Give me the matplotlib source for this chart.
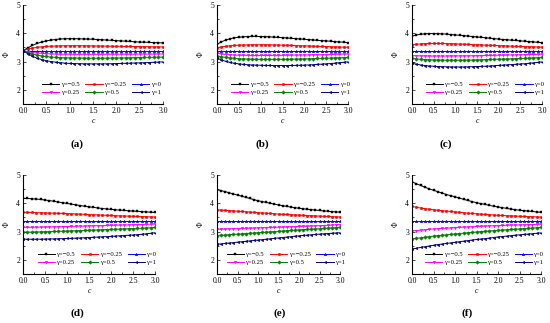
import matplotlib
matplotlib.use("Agg")
import matplotlib.pyplot as plt
from matplotlib.ticker import MultipleLocator, FormatStrFormatter

c = [0.0, 0.1, 0.2, 0.3, 0.4, 0.5, 0.6, 0.7, 0.8, 0.9, 1.0,
     1.1, 1.2, 1.3, 1.4, 1.5, 1.6, 1.7, 1.8, 1.9, 2.0,
     2.1, 2.2, 2.3, 2.4, 2.5, 2.6, 2.7, 2.8, 2.9, 3.0]

gamma_labels = ["γ=−0.5", "γ=−0.25", "γ=0", "γ=0.25", "γ=0.5", "γ=1"]
panel_labels = ["(a)", "(b)", "(c)", "(d)", "(e)", "(f)"]

flat_g0 = [3.38, 3.38, 3.38, 3.38, 3.38, 3.38, 3.38, 3.38, 3.38, 3.38, 3.38,
           3.38, 3.38, 3.38, 3.38, 3.38, 3.38, 3.38, 3.38, 3.38, 3.38,
           3.38, 3.38, 3.38, 3.38, 3.38, 3.38, 3.38, 3.38, 3.38, 3.38]

# Panel (a)
a_m05 = [3.39, 3.48, 3.57, 3.64, 3.69, 3.73, 3.76, 3.78, 3.80, 3.805, 3.81, 3.81, 3.805, 3.80, 3.795, 3.79,
         3.78, 3.77, 3.76, 3.75, 3.74, 3.73, 3.72, 3.71, 3.70, 3.69, 3.685, 3.68, 3.67, 3.665, 3.66]
a_m025 = [3.39, 3.44, 3.48, 3.50, 3.52, 3.535, 3.545, 3.55, 3.555, 3.56, 3.56, 3.56, 3.56, 3.56, 3.555, 3.555,
          3.55, 3.55, 3.545, 3.545, 3.54, 3.54, 3.535, 3.535, 3.53, 3.53, 3.525, 3.525, 3.52, 3.52, 3.52]
a_p025 = [3.39, 3.35, 3.32, 3.30, 3.29, 3.28, 3.27, 3.265, 3.26, 3.26, 3.26, 3.255, 3.255, 3.255, 3.255, 3.255,
          3.255, 3.255, 3.26, 3.26, 3.26, 3.26, 3.26, 3.26, 3.26, 3.265, 3.265, 3.265, 3.265, 3.265, 3.27]
a_p05 = [3.39, 3.32, 3.27, 3.23, 3.20, 3.18, 3.16, 3.15, 3.14, 3.135, 3.13, 3.128, 3.125, 3.123, 3.12, 3.12,
         3.12, 3.12, 3.122, 3.125, 3.128, 3.13, 3.133, 3.136, 3.14, 3.143, 3.146, 3.15, 3.153, 3.156, 3.16]
a_p1 = [3.39, 3.28, 3.19, 3.12, 3.07, 3.03, 3.00, 2.98, 2.96, 2.945, 2.935, 2.93, 2.925, 2.922, 2.92, 2.92,
        2.92, 2.92, 2.922, 2.925, 2.93, 2.935, 2.94, 2.945, 2.95, 2.955, 2.96, 2.967, 2.974, 2.982, 2.99]

# Panel (b)
b_m05 = [3.61, 3.70, 3.76, 3.81, 3.84, 3.86, 3.875, 3.885, 3.89, 3.89, 3.885, 3.88, 3.875, 3.865, 3.855, 3.845,
         3.835, 3.82, 3.81, 3.80, 3.79, 3.775, 3.765, 3.75, 3.74, 3.73, 3.72, 3.705, 3.695, 3.685, 3.67]
b_m025 = [3.49, 3.52, 3.54, 3.56, 3.57, 3.58, 3.585, 3.59, 3.595, 3.595, 3.595, 3.595, 3.59, 3.59, 3.585, 3.58,
          3.575, 3.57, 3.565, 3.56, 3.555, 3.55, 3.545, 3.54, 3.535, 3.53, 3.525, 3.52, 3.515, 3.51, 3.505]
b_p025 = [3.29, 3.27, 3.25, 3.24, 3.23, 3.225, 3.22, 3.22, 3.215, 3.215, 3.215, 3.215, 3.215, 3.22, 3.22, 3.22,
          3.225, 3.225, 3.23, 3.23, 3.235, 3.235, 3.24, 3.24, 3.245, 3.245, 3.25, 3.255, 3.26, 3.265, 3.27]
b_p05 = [3.20, 3.17, 3.15, 3.13, 3.115, 3.10, 3.095, 3.09, 3.085, 3.08, 3.08, 3.078, 3.078, 3.078, 3.08, 3.08,
         3.083, 3.086, 3.09, 3.093, 3.096, 3.10, 3.105, 3.11, 3.115, 3.12, 3.125, 3.13, 3.135, 3.14, 3.15]
b_p1 = [3.12, 3.06, 3.01, 2.97, 2.94, 2.92, 2.90, 2.89, 2.88, 2.875, 2.87, 2.865, 2.862, 2.86, 2.86, 2.86,
        2.86, 2.862, 2.865, 2.87, 2.875, 2.88, 2.89, 2.90, 2.91, 2.92, 2.93, 2.945, 2.96, 2.975, 2.99]

# Panel (c)
c_m05 = [3.90, 3.94, 3.965, 3.98, 3.99, 3.99, 3.985, 3.98, 3.97, 3.955, 3.94, 3.93, 3.915, 3.90, 3.885, 3.87,
         3.855, 3.84, 3.825, 3.81, 3.795, 3.78, 3.77, 3.755, 3.745, 3.73, 3.72, 3.705, 3.695, 3.68, 3.67]
c_m025 = [3.59, 3.61, 3.625, 3.635, 3.64, 3.64, 3.64, 3.64, 3.635, 3.63, 3.625, 3.62, 3.615, 3.61, 3.60, 3.595,
          3.59, 3.58, 3.575, 3.57, 3.565, 3.56, 3.55, 3.545, 3.54, 3.535, 3.53, 3.525, 3.52, 3.515, 3.51]
c_p025 = [3.21, 3.205, 3.20, 3.20, 3.195, 3.195, 3.195, 3.195, 3.195, 3.195, 3.20, 3.20, 3.20, 3.205, 3.205, 3.21,
          3.21, 3.215, 3.215, 3.22, 3.225, 3.225, 3.23, 3.235, 3.235, 3.24, 3.245, 3.25, 3.25, 3.255, 3.26]
c_p05 = [3.11, 3.095, 3.08, 3.07, 3.065, 3.06, 3.055, 3.055, 3.05, 3.05, 3.05, 3.05, 3.05, 3.055, 3.055, 3.06,
         3.065, 3.07, 3.075, 3.08, 3.085, 3.09, 3.095, 3.10, 3.105, 3.11, 3.115, 3.125, 3.13, 3.14, 3.15]
c_p1 = [2.94, 2.91, 2.88, 2.86, 2.845, 2.835, 2.825, 2.82, 2.815, 2.81, 2.81, 2.81, 2.81, 2.815, 2.82, 2.825,
        2.83, 2.835, 2.845, 2.855, 2.865, 2.875, 2.885, 2.895, 2.905, 2.915, 2.925, 2.94, 2.955, 2.97, 2.99]

# Panel (d)
d_m05 = [4.17, 4.17, 4.16, 4.15, 4.135, 4.115, 4.095, 4.07, 4.045, 4.02, 3.995, 3.97, 3.945, 3.92, 3.895, 3.875,
         3.855, 3.835, 3.815, 3.80, 3.785, 3.77, 3.76, 3.745, 3.735, 3.725, 3.715, 3.705, 3.695, 3.685, 3.675]
d_m025 = [3.68, 3.68, 3.675, 3.67, 3.665, 3.66, 3.655, 3.65, 3.645, 3.64, 3.635, 3.63, 3.62, 3.615, 3.61, 3.60,
          3.595, 3.59, 3.58, 3.575, 3.57, 3.56, 3.555, 3.55, 3.545, 3.54, 3.535, 3.53, 3.525, 3.52, 3.515]
d_p025 = [3.15, 3.15, 3.152, 3.155, 3.158, 3.16, 3.163, 3.166, 3.17, 3.174, 3.178, 3.182, 3.186, 3.19, 3.195, 3.20,
          3.204, 3.208, 3.212, 3.216, 3.22, 3.225, 3.23, 3.234, 3.238, 3.242, 3.246, 3.25, 3.255, 3.26, 3.265]
d_p05 = [2.98, 2.98, 2.982, 2.985, 2.99, 2.995, 3.00, 3.005, 3.01, 3.015, 3.02, 3.025, 3.03, 3.036, 3.042, 3.048,
         3.054, 3.06, 3.066, 3.072, 3.078, 3.084, 3.09, 3.096, 3.102, 3.108, 3.114, 3.12, 3.128, 3.136, 3.145]
d_p1 = [2.73, 2.73, 2.73, 2.73, 2.732, 2.735, 2.738, 2.742, 2.746, 2.75, 2.756, 2.762, 2.768, 2.775, 2.782, 2.79,
        2.798, 2.806, 2.814, 2.822, 2.83, 2.84, 2.85, 2.86, 2.87, 2.88, 2.89, 2.905, 2.92, 2.94, 2.96]

# Panel (e)
e_m05 = [4.48, 4.45, 4.41, 4.37, 4.33, 4.29, 4.25, 4.21, 4.17, 4.13, 4.09, 4.06, 4.03, 4.00, 3.97, 3.94,
         3.915, 3.89, 3.865, 3.845, 3.825, 3.805, 3.79, 3.775, 3.76, 3.745, 3.73, 3.72, 3.705, 3.695, 3.685]
e_m025 = [3.77, 3.76, 3.75, 3.74, 3.73, 3.72, 3.71, 3.70, 3.69, 3.68, 3.67, 3.66, 3.65, 3.64, 3.63, 3.62,
          3.61, 3.605, 3.595, 3.59, 3.58, 3.575, 3.565, 3.56, 3.555, 3.545, 3.54, 3.535, 3.53, 3.52, 3.515]
e_p025 = [3.08, 3.085, 3.09, 3.095, 3.10, 3.105, 3.11, 3.115, 3.12, 3.125, 3.13, 3.135, 3.14, 3.145, 3.15, 3.155,
          3.16, 3.165, 3.17, 3.175, 3.18, 3.185, 3.19, 3.196, 3.202, 3.208, 3.214, 3.22, 3.23, 3.24, 3.25]
e_p05 = [2.86, 2.87, 2.88, 2.89, 2.90, 2.91, 2.92, 2.93, 2.94, 2.95, 2.96, 2.97, 2.98, 2.99, 3.00, 3.01,
         3.02, 3.03, 3.04, 3.05, 3.06, 3.07, 3.08, 3.09, 3.095, 3.10, 3.11, 3.12, 3.13, 3.14, 3.15]
e_p1 = [2.55, 2.565, 2.58, 2.595, 2.61, 2.625, 2.64, 2.655, 2.67, 2.685, 2.70, 2.715, 2.73, 2.745, 2.76, 2.775,
        2.79, 2.805, 2.82, 2.835, 2.85, 2.862, 2.874, 2.886, 2.898, 2.91, 2.92, 2.93, 2.94, 2.95, 2.96]

# Panel (f)
f_m05 = [4.76, 4.69, 4.63, 4.57, 4.51, 4.46, 4.41, 4.36, 4.31, 4.27, 4.23, 4.185, 4.14, 4.10, 4.06, 4.02,
         3.99, 3.96, 3.925, 3.895, 3.87, 3.845, 3.82, 3.795, 3.775, 3.755, 3.74, 3.725, 3.71, 3.695, 3.68]
f_m025 = [3.89, 3.86, 3.835, 3.81, 3.79, 3.77, 3.755, 3.74, 3.725, 3.71, 3.695, 3.68, 3.665, 3.65, 3.64, 3.63,
          3.615, 3.605, 3.595, 3.585, 3.575, 3.57, 3.56, 3.555, 3.55, 3.54, 3.535, 3.53, 3.525, 3.52, 3.51]
f_p025 = [3.02, 3.035, 3.05, 3.065, 3.08, 3.09, 3.10, 3.11, 3.12, 3.13, 3.14, 3.15, 3.155, 3.165, 3.17, 3.18,
          3.185, 3.195, 3.20, 3.205, 3.21, 3.215, 3.22, 3.225, 3.23, 3.235, 3.24, 3.245, 3.25, 3.255, 3.26]
f_p05 = [2.74, 2.76, 2.78, 2.80, 2.82, 2.84, 2.855, 2.87, 2.885, 2.90, 2.915, 2.93, 2.945, 2.96, 2.97, 2.985,
         3.00, 3.01, 3.02, 3.035, 3.045, 3.055, 3.065, 3.075, 3.085, 3.095, 3.105, 3.115, 3.125, 3.135, 3.145]
f_p1 = [2.38, 2.41, 2.44, 2.465, 2.49, 2.515, 2.54, 2.56, 2.58, 2.60, 2.62, 2.64, 2.66, 2.68, 2.70, 2.72,
        2.735, 2.75, 2.77, 2.79, 2.81, 2.825, 2.84, 2.855, 2.87, 2.885, 2.90, 2.91, 2.925, 2.94, 2.955]

panels = [
    [a_m05, a_m025, flat_g0, a_p025, a_p05, a_p1],
    [b_m05, b_m025, flat_g0, b_p025, b_p05, b_p1],
    [c_m05, c_m025, flat_g0, c_p025, c_p05, c_p1],
    [d_m05, d_m025, flat_g0, d_p025, d_p05, d_p1],
    [e_m05, e_m025, flat_g0, e_p025, e_p05, e_p1],
    [f_m05, f_m025, flat_g0, f_p025, f_p05, f_p1],
]

colors = ["#000000", "#ff0000", "#0000ff", "#ff00ff", "#008000", "#000080"]
markers = ["s", "o", "^", "v", "D", "<"]

plt.rcParams["font.family"] = ["Liberation Serif", "DejaVu Serif"]
plt.rcParams["mathtext.fontset"] = "stix"

W, H = 550, 323
fig = plt.figure(figsize=(5.5, 3.23), dpi=100)

# axes pixel boxes: (left, right, top, bottom)
boxes = [
    (23, 163, 5, 104), (217, 348, 5, 104), (412, 542, 5, 104),
    (23, 155, 175, 274), (217, 340, 175, 274), (412, 541, 175, 274),
]
label_pos = [(77, 144), (262, 144), (446, 144), (77, 313), (280, 313), (467, 313)]

# row-wise legend order for a 3-column legend
legend_order = [0, 3, 1, 4, 2, 5]

for i, (box, series) in enumerate(zip(boxes, panels)):
    l, r, t, b = box
    ax = fig.add_axes([l / W, 1 - b / H, (r - l) / W, (b - t) / H])
    handles = []
    for s, col, mk, lab in zip(series, colors, markers, gamma_labels):
        h, = ax.plot(c, s, color=col, marker=mk, markersize=1.8, linewidth=0.7,
                     markeredgewidth=0.3, label=lab)
        handles.append(h)
    ax.set_xlim(0, 3.0)
    ax.set_ylim(1.5, 5)
    ax.spines["top"].set_visible(False)
    ax.spines["right"].set_visible(False)
    for sp in ("left", "bottom"):
        ax.spines[sp].set_linewidth(0.8)
    ax.xaxis.set_major_locator(MultipleLocator(0.5))
    ax.xaxis.set_minor_locator(MultipleLocator(0.25))
    ax.xaxis.set_major_formatter(FormatStrFormatter("%.1f"))
    ax.yaxis.set_major_locator(MultipleLocator(1))
    ax.yaxis.set_minor_locator(MultipleLocator(0.5))
    ax.tick_params(which="both", direction="in", labelsize=5.5, pad=2, width=0.5)
    ax.tick_params(which="major", length=2.2)
    ax.tick_params(which="minor", length=1.2)
    ax.set_xlabel("c", fontsize=5.5, style="italic", labelpad=1.5)
    ax.set_ylabel("Φ", fontsize=5.5, labelpad=4, rotation=90)
    ordered = [handles[k] for k in legend_order]
    ax.legend(ordered, [gamma_labels[k] for k in legend_order],
              loc="center", bbox_to_anchor=(0.56, 0.155), ncol=3, frameon=False,
              fontsize=4.8, handlelength=2.6, handletextpad=0.2, columnspacing=0.9,
              labelspacing=0.35, borderpad=0.1)
    lx, ly = label_pos[i]
    fig.text(lx / W, 1 - ly / H, panel_labels[i], ha="center", va="center",
             fontsize=8, fontweight="bold")

fig.savefig("out.png", dpi=100)
